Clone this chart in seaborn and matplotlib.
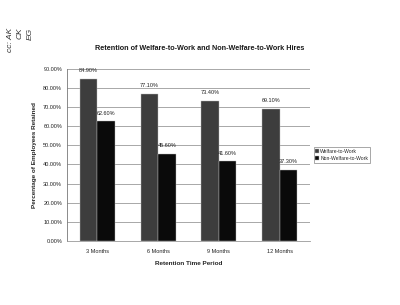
import matplotlib
matplotlib.use("Agg")
import matplotlib.pyplot as plt
import seaborn as sns
import pandas as pd
from matplotlib.ticker import FuncFormatter

periods = ["3 Months", "6 Months", "9 Months", "12 Months"]
welfare = [84.90, 77.10, 73.40, 69.10]
non_welfare = [62.60, 45.60, 41.60, 37.30]
series = ["Welfare-to-Work", "Non-Welfare-to-Work"]
yticks = [0, 10, 20, 30, 40, 50, 60, 70, 80, 90]

df = pd.DataFrame({
    "Period": periods * 2,
    "Value": welfare + non_welfare,
    "Series": [series[0]] * len(periods) + [series[1]] * len(periods),
})

sns.set_theme(style="white")
plt.rcParams["font.family"] = ["Liberation Sans", "DejaVu Sans"]

fig = plt.figure(figsize=(4.0, 3.05), dpi=100)
ax = fig.add_axes([0.1675, 0.21, 0.6075, 0.564])

sns.barplot(data=df, x="Period", y="Value", hue="Series", order=periods,
            hue_order=series, palette=["#3d3d3d", "#0a0a0a"], width=0.58,
            saturation=1, ax=ax, legend=True, zorder=3, edgecolor="#bbbbbb",
            linewidth=0.3)

ax.set_ylim(0, 90)
ax.set_yticks(yticks)
ax.yaxis.set_major_formatter(FuncFormatter(lambda v, p: f"{v:.2f}%"))
ax.grid(axis="y", color="#9a9a9a", linewidth=0.6, zorder=0)
ax.set_axisbelow(True)
for s in ["top", "right"]:
    ax.spines[s].set_visible(False)
ax.spines["left"].set_color("#777777")
ax.spines["left"].set_linewidth(0.6)
ax.spines["bottom"].set_color("#999999")
ax.spines["bottom"].set_linewidth(0.6)
ax.tick_params(axis="both", labelsize=4.0, length=1.5, pad=2, colors="#222222")
ax.tick_params(axis="x", length=0, pad=6)

for cont in ax.containers:
    ax.bar_label(cont, labels=[f"{v:.2f}%" for v in cont.datavalues],
                 fontsize=4.0, padding=4, color="#222222")

ax.set_xlabel("Retention Time Period", fontsize=4.6, fontweight="bold", labelpad=5)
ax.set_ylabel("Percentage of Employees Retained", fontsize=4.6, fontweight="bold", labelpad=4)

leg = ax.legend(loc="center left", bbox_to_anchor=(1.005, 0.5), fontsize=3.6,
                frameon=True, fancybox=False, edgecolor="#666666",
                handlelength=0.7, handleheight=0.7, handletextpad=0.3,
                borderpad=0.35, labelspacing=0.4)
leg.get_frame().set_linewidth(0.5)

fig.text(0.5, 0.842, "Retention of Welfare-to-Work and Non-Welfare-to-Work Hires",
         ha="center", va="center", fontsize=5.2, fontweight="bold", color="#1a1a1a")

fig.text(0.025, 0.87, "cc: AK", rotation=90, fontsize=6, ha="center", va="center",
         color="#333333", style="italic")
fig.text(0.05, 0.89, "CK", rotation=90, fontsize=6, ha="center", va="center",
         color="#333333", style="italic")
fig.text(0.075, 0.89, "EG", rotation=90, fontsize=6, ha="center", va="center",
         color="#333333", style="italic")

fig.savefig("out.png", dpi=100, facecolor="white")
